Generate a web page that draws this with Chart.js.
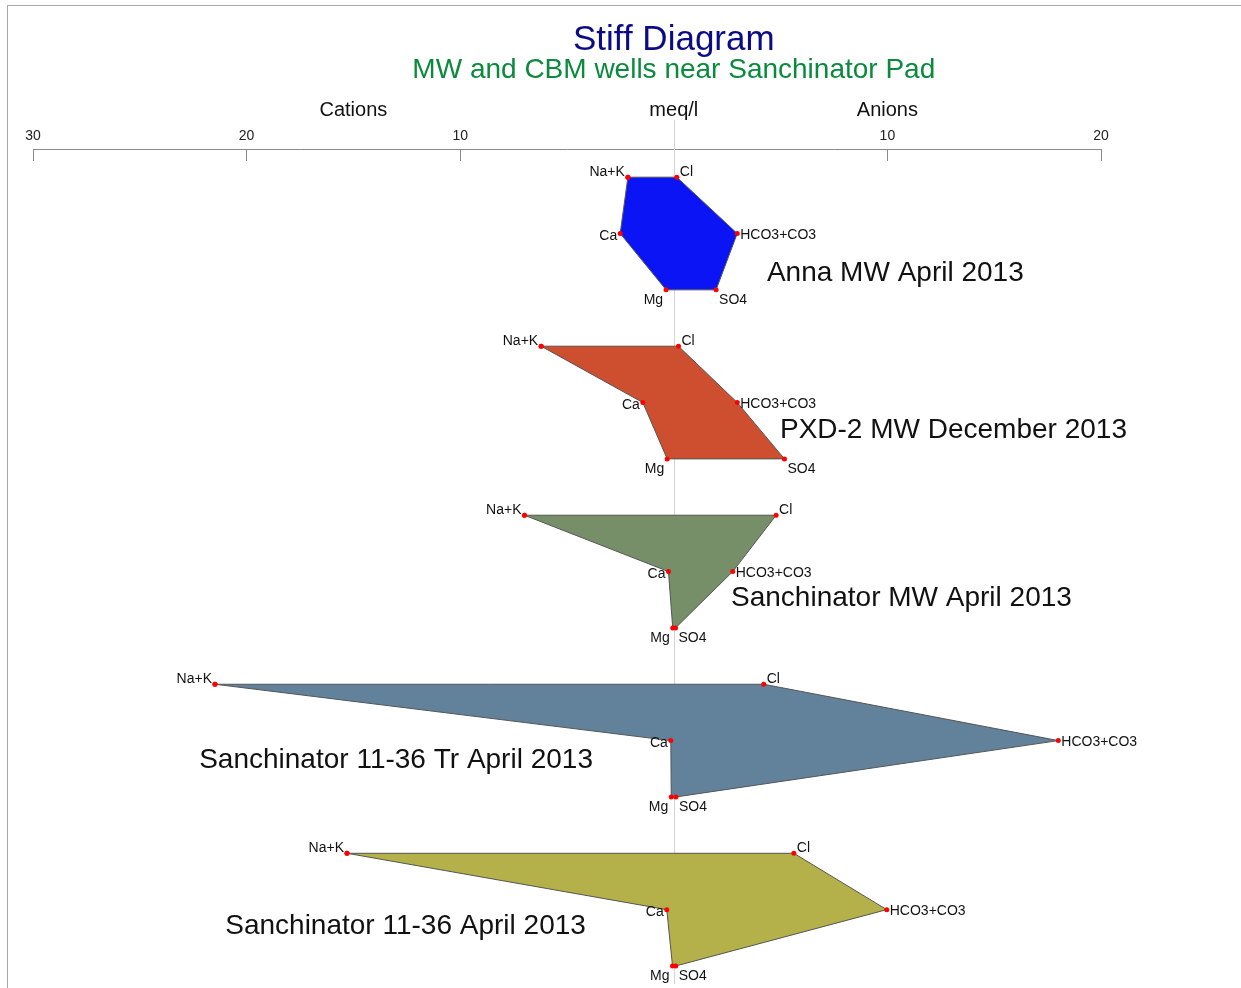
<!DOCTYPE html>
<html>
<head>
<meta charset="utf-8">
<script src="https://cdn.jsdelivr.net/npm/chart.js@4.4.1/dist/chart.umd.min.js"></script>
<style>
    html, body { margin: 0; padding: 0; background: #fff; }
    #frame {
        position: absolute; left: 7px; top: 5px;
        width: 1233px; height: 982px;
        border-top: 1px solid #a8a8a8; border-left: 1px solid #a8a8a8;
    }
</style>
</head>
<body>
<div id="frame"><canvas id="stiffChart"></canvas></div>
<script>
// Amostras (de cima para baixo)
const sampleNames = ['Anna MW April 2013', 'PXD-2 MW December 2013', 'Sanchinator MW April 2013',
    'Sanchinator 11-36 Tr April 2013', 'Sanchinator 11-36 April 2013'];

// meq/l - cátions (lado esquerdo)
const naK = [2.15, 6.21, 6.99, 21.48, 15.30];
const ca = [2.51, 1.45, 0.25, 0.14, 0.33];
const mg = [0.36, 0.31, 0.05, 0.12, 0.06];
// meq/l - ânions (lado direito)
const cl = [0.14, 0.22, 4.79, 4.21, 5.62];
const hco3 = [2.97, 2.97, 2.76, 18.00, 9.97];
const so4 = [1.98, 5.18, 0.08, 0.10, 0.09];

const xTicks = [-30, -20, -10, 0, 10, 20];
const fillColors = ['#0a14f5', '#cd4f2f', '#768f69', '#62819b', '#b4b04a'];

// onde vai o nome de cada diagrama (x em meq/l, y em linhas)
const nameX = [4.36, 4.97, 2.68, -22.22, -21.0];
const nameY = [1.70, 4.49, 7.47, 10.35, 13.30];

const FONT = "'Liberation Sans', Arial, sans-serif";

// ordem do polígono: Na+K, Cl, HCO3, SO4, Mg, Ca, Na+K
const datasets = sampleNames.map((name, i) => {
    const r = i * 3;
    return {
        label: name,
        data: [
            { x: -naK[i], y: r, ion: 'Na+K' },
            { x: cl[i], y: r, ion: 'Cl' },
            { x: hco3[i], y: r + 1, ion: 'HCO3+CO3' },
            { x: so4[i], y: r + 2, ion: 'SO4' },
            { x: -mg[i], y: r + 2, ion: 'Mg' },
            { x: -ca[i], y: r + 1, ion: 'Ca' },
            { x: -naK[i], y: r, ion: '' }
        ],
        backgroundColor: fillColors[i],
        borderColor: '#555',
        borderWidth: 1,
        fill: 'shape',
        tension: 0,
        pointRadius: 2.5,
        pointBackgroundColor: '#ff0000',
        pointBorderWidth: 0
    };
});

// posição do texto de cada íon em relação ao ponto
const ionLabel = {
    'Na+K': { align: 'right', dx: -3, dy: -5 },
    'Cl': { align: 'left', dx: 3, dy: -5 },
    'Ca': { align: 'right', dx: -3, dy: 3 },
    'HCO3+CO3': { align: 'left', dx: 3, dy: 2 },
    'Mg': { align: 'right', dx: -3, dy: 10 },
    'SO4': { align: 'left', dx: 3, dy: 10 }
};

const stiffPlugin = {
    id: 'stiffExtras',
    beforeDatasetsDraw(chart) {
        const ctx = chart.ctx;
        const x0 = Math.round(chart.scales.x.getPixelForValue(0)) + 0.5;
        ctx.save();
        ctx.strokeStyle = '#d4d4d4';
        ctx.lineWidth = 1;
        ctx.beginPath();
        ctx.moveTo(x0, 114);
        ctx.lineTo(x0, chart.chartArea.bottom);
        ctx.stroke();
        ctx.restore();
    },
    afterDraw(chart) {
        const ctx = chart.ctx;
        const xs = chart.scales.x, ys = chart.scales.y;
        ctx.save();
        ctx.textBaseline = 'middle';
        ctx.textAlign = 'center';

        ctx.fillStyle = '#0b0b8a';
        ctx.font = '35px ' + FONT;
        ctx.fillText('Stiff Diagram', xs.getPixelForValue(0), 34);
        ctx.fillStyle = '#0a8a3c';
        ctx.font = '28px ' + FONT;
        ctx.fillText('MW and CBM wells near Sanchinator Pad', xs.getPixelForValue(0), 64);

        ctx.fillStyle = '#111';
        ctx.font = '20px ' + FONT;
        ctx.fillText('Cations', xs.getPixelForValue(-15), 104);
        ctx.fillText('meq/l', xs.getPixelForValue(0), 104);
        ctx.fillText('Anions', xs.getPixelForValue(10), 104);

        // rótulos dos íons
        ctx.font = '14px ' + FONT;
        chart.data.datasets.forEach((ds, i) => {
            const meta = chart.getDatasetMeta(i);
            meta.data.forEach((pt, j) => {
                const ion = ds.data[j].ion;
                if (!ion) return;
                const o = ionLabel[ion];
                ctx.textAlign = o.align;
                ctx.fillText(ion, pt.x + o.dx, pt.y + o.dy);
            });
        });

        // nomes das amostras
        ctx.font = '28px ' + FONT;
        ctx.textAlign = 'left';
        sampleNames.forEach((name, i) => {
            ctx.fillText(name, xs.getPixelForValue(nameX[i]), ys.getPixelForValue(nameY[i]));
        });
        ctx.restore();
    }
};

new Chart(document.getElementById('stiffChart').getContext('2d'), {
    type: 'line',
    data: { datasets: datasets },
    plugins: [stiffPlugin],
    options: {
        responsive: true,
        maintainAspectRatio: false,
        animation: false,
        layout: { padding: { left: 25, right: 140, top: 113, bottom: 0 } },
        plugins: {
            legend: { display: false },
            tooltip: { enabled: false }
        },
        scales: {
            x: {
                type: 'linear',
                position: 'top',
                min: -30,
                max: 20,
                afterBuildTicks: scale => { scale.ticks = xTicks.map(v => ({ value: v })); },
                afterFit: scale => { scale.height = 30; },
                ticks: {
                    callback: v => v === 0 ? '' : String(Math.abs(v)),
                    font: { size: 14, family: FONT },
                    color: '#222',
                    maxRotation: 0,
                    padding: 16
                },
                grid: {
                    drawOnChartArea: false,
                    tickLength: -12,
                    color: c => (c.tick && c.tick.value === 0) ? 'rgba(0,0,0,0)' : '#8a8a8a'
                },
                border: { display: true, color: '#8a8a8a' }
            },
            y: {
                type: 'linear',
                display: false,
                reverse: true,
                min: -0.5,
                max: 14.32
            }
        }
    }
});
</script>
</body>
</html>
